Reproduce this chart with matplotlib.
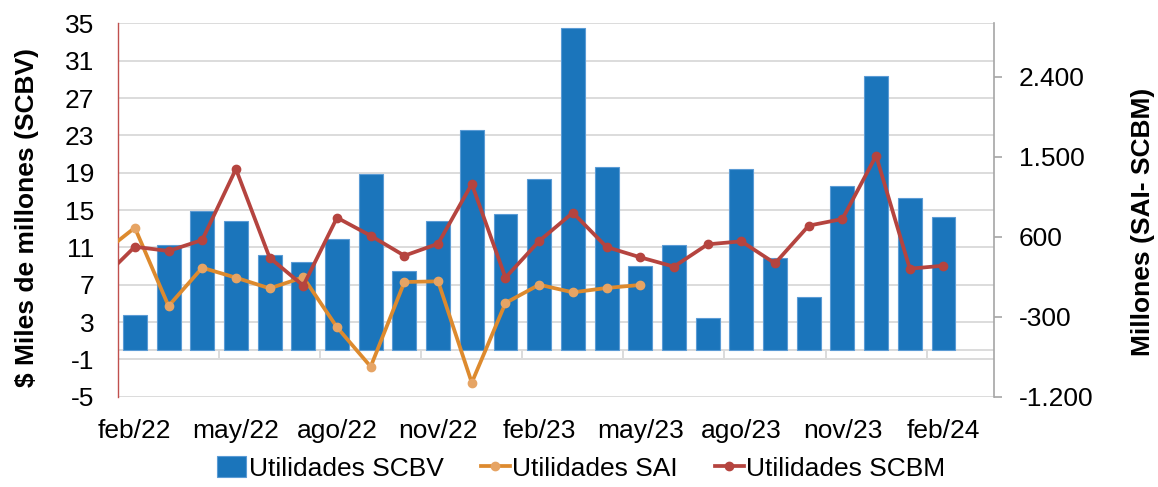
import numpy as np
import matplotlib
matplotlib.use("Agg")
import matplotlib.pyplot as plt
from matplotlib.ticker import FuncFormatter

plt.rcParams['font.family'] = ['Liberation Sans', 'DejaVu Sans']
plt.rcParams['axes.unicode_minus'] = False

# monthly profits, feb/22 .. mar/24 (last month still without data)
months = ["feb/22", "mar/22", "abr/22", "may/22", "jun/22", "jul/22", "ago/22",
          "sep/22", "oct/22", "nov/22", "dic/22", "ene/23", "feb/23", "mar/23",
          "abr/23", "may/23", "jun/23", "jul/23", "ago/23", "sep/23", "oct/23",
          "nov/23", "dic/23", "ene/24", "feb/24", "mar/24"]

# SCBV, miles de millones
scbv = [3.7, 11.2, 14.9, 13.8, 10.2, 9.4, 11.9, 18.9, 8.5, 13.8, 23.6, 14.6,
        18.3, 34.5, 19.6, 9.0, 11.3, 3.4, 19.4, 9.9, 5.7, 17.6, 29.4, 16.3, 14.3]

# SAI and SCBM, millones (first value is jan/22, left of the visible range)
sai = [402, 701, -180, 251, 139, 19, 143, -419, -862, 90, 98, -1042, -146,
       60, -26, 23, 57]
scbm = [114, 487, 439, 563, 1361, 364, 49, 814, 611, 386, 521, 1193, 139,
        551, 870, 484, 368, 263, 514, 548, 300, 724, 799, 1511, 240, 274]

x = np.arange(len(months))
x_bar = x[:len(scbv)]
x_sai = np.arange(-1, len(sai) - 1)
x_scbm = np.arange(-1, len(scbm) - 1)

fs = 19

fig = plt.figure(figsize=(11.58, 4.87), dpi=100)
ax = fig.add_axes([0.1019, 0.1854, 0.7565, 0.7667])

bars = ax.bar(x_bar, scbv, width=0.71, color="#1b75bb", edgecolor="#5b9bd5",
              linewidth=0.8, zorder=2, label="Utilidades SCBV")

ax.set_xlim(-0.5, len(months) - 0.5)
ax.set_ylim(-5, 35)
ax.set_yticks(np.arange(-5, 36, 4))
ax.grid(axis='y', color="#d9d9d9", linewidth=1.3, zorder=0)
ax.set_axisbelow(True)

# category axis drawn at zero, with marks every three months
ax.axhline(0, color="#d9d9d9", linewidth=1.3, zorder=1)
ax.vlines(np.arange(2.5, len(months) - 1, 3), -0.9, 0, color="#d9d9d9",
          linewidth=1.3, zorder=1)

ax.set_xticks(x[::3])
ax.set_xticklabels(months[::3])
ax.tick_params(axis='x', length=0, pad=16, labelsize=fs)
ax.tick_params(axis='y', length=0, pad=17, labelsize=fs)

for side in ["top", "bottom", "right"]:
    ax.spines[side].set_visible(False)
ax.spines["left"].set_color("#c0504d")
ax.spines["left"].set_linewidth(1.0)

ax2 = ax.twinx()
l1, = ax2.plot(x_sai, sai, color="#dd8a2e", linewidth=2.7, marker='o',
               markersize=6, markerfacecolor="#e6a464",
               markeredgecolor="#e6a464", label="Utilidades SAI")
l2, = ax2.plot(x_scbm, scbm, color="#b5443f", linewidth=2.7, marker='o',
               markersize=6, markerfacecolor="#b5443f",
               markeredgecolor="#b5443f", label="Utilidades SCBM")
ax2.set_xlim(-0.5, len(months) - 0.5)
ax2.set_ylim(-1200, 3000)
ax2.set_yticks(np.arange(-1200, 3000, 900))
ax2.yaxis.set_major_formatter(
    FuncFormatter(lambda v, p: f"{v:,.0f}".replace(",", ".")))
ax2.tick_params(axis='y', length=6, width=1.2, color="#a6a6a6", pad=12,
                labelsize=fs)
for side in ["top", "bottom", "left"]:
    ax2.spines[side].set_visible(False)
ax2.spines["right"].set_color("#a6a6a6")
ax2.spines["right"].set_linewidth(1.2)

fig.text(0.0233, 0.554, "$ Miles de millones (SCBV)", rotation=90,
         ha='center', va='center', fontsize=fs, fontweight='bold')
fig.text(0.987, 0.544, "Millones (SAI- SCBM)", rotation=90,
         ha='center', va='center', fontsize=fs, fontweight='bold')

handles = [bars, l1, l2]
labels = ["Utilidades SCBV", "Utilidades SAI", "Utilidades SCBM"]
fig.legend(handles, labels, loc='center', bbox_to_anchor=(0.502, 0.038),
           ncol=3, frameon=False, fontsize=fs, handlelength=1.1,
           handleheight=0.8, handletextpad=0.1, columnspacing=1.4)

fig.savefig("out.png", dpi=100)
